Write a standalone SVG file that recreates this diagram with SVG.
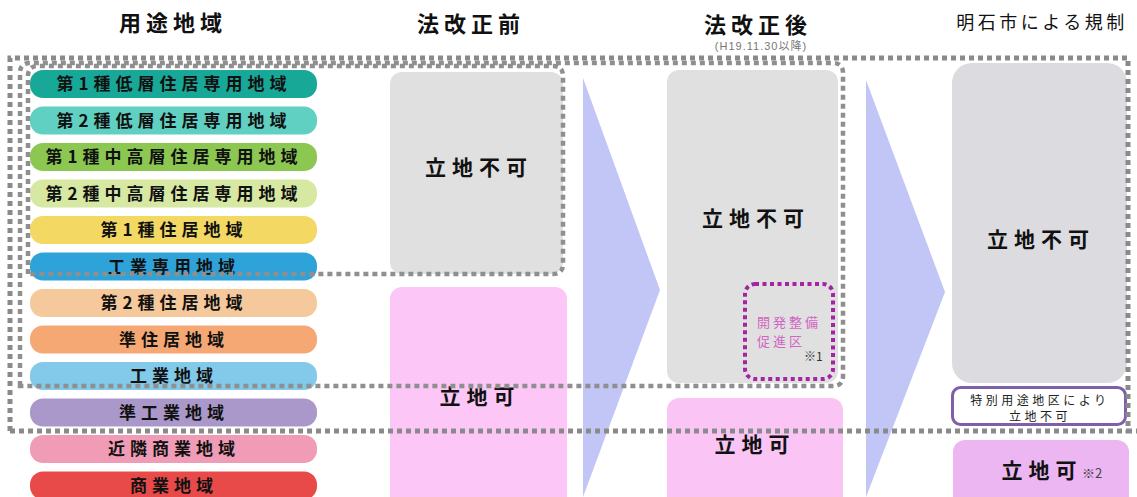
<svg xmlns="http://www.w3.org/2000/svg" width="1137" height="497" viewBox="0 0 1137 497">
<style>
.h{font-family:"Noto Sans CJK JP","Noto Sans CJK SC",sans-serif;font-weight:bold;font-size:22px;letter-spacing:5px;fill:#111;text-anchor:middle}
.p{font-family:"Noto Sans CJK JP","Noto Sans CJK SC",sans-serif;font-weight:bold;font-size:17px;letter-spacing:5px;fill:#111;text-anchor:middle}
.b{font-family:"Noto Sans CJK JP","Noto Sans CJK SC",sans-serif;font-weight:bold;font-size:21px;letter-spacing:6px;fill:#111;text-anchor:middle}
.s{font-family:"Noto Sans CJK JP","Noto Sans CJK SC",sans-serif;font-size:12px;letter-spacing:3.5px;fill:#222;text-anchor:middle}
.m{font-family:"Noto Sans CJK JP","Noto Sans CJK SC",sans-serif;font-size:13px;letter-spacing:3px;fill:#d264c4}
.d{fill:none;stroke:#8a8a8a;stroke-width:5;stroke-dasharray:5 4}
.d2{fill:none;stroke:#8f8f8f;stroke-width:4.5;stroke-dasharray:5 4}
.pill{stroke:none}
</style>
<rect width="1137" height="497" fill="#ffffff"/>
<g id="headers">
<text class="h" x="173" y="31">用途地域</text>
<text class="h" x="471" y="32">法改正前</text>
<text class="h" x="758" y="33">法改正後</text>
<text x="761" y="50" font-family="Liberation Sans,Noto Sans CJK JP,sans-serif" font-size="11" fill="#777" text-anchor="middle" letter-spacing="1">(H19.11.30以降)</text>
<text x="1042" y="29" font-family="Noto Sans CJK JP,Noto Sans CJK SC,sans-serif" font-size="18" fill="#111" text-anchor="middle" letter-spacing="3.5">明石市による規制</text>
</g>
<g id="zones">
<g id="z1"><rect class="pill" x="30" y="70" width="287" height="28" rx="13" fill="#18a898"/><text class="p" x="174" y="90">第1種低層住居専用地域</text></g>
<g id="z2"><rect class="pill" x="30" y="106.5" width="287" height="28" rx="13" fill="#5fd0c2"/><text class="p" x="174" y="126.5">第2種低層住居専用地域</text></g>
<g id="z3"><rect class="pill" x="30" y="143" width="287" height="28" rx="13" fill="#8cc851"/><text class="p" x="174" y="163">第1種中高層住居専用地域</text></g>
<g id="z4"><rect class="pill" x="30" y="179.5" width="287" height="28" rx="13" fill="#d6e8a2"/><text class="p" x="174" y="199.5">第2種中高層住居専用地域</text></g>
<g id="z5"><rect class="pill" x="30" y="216" width="287" height="28" rx="13" fill="#f3d964"/><text class="p" x="174" y="236">第1種住居地域</text></g>
<g id="z6"><rect class="pill" x="30" y="252.5" width="287" height="28" rx="13" fill="#2ea3da"/><text class="p" x="174" y="272.5">工業専用地域</text></g>
<g id="z7"><rect class="pill" x="30" y="289" width="287" height="28" rx="13" fill="#f6c99c"/><text class="p" x="174" y="309">第2種住居地域</text></g>
<g id="z8"><rect class="pill" x="30" y="325.5" width="287" height="28" rx="13" fill="#f5a874"/><text class="p" x="174" y="345.5">準住居地域</text></g>
<g id="z9"><rect class="pill" x="30" y="362" width="287" height="28" rx="13" fill="#82c9ea"/><text class="p" x="174" y="382">工業地域</text></g>
<g id="z10"><rect class="pill" x="30" y="398.5" width="287" height="28" rx="13" fill="#a998c9"/><text class="p" x="174" y="418.5">準工業地域</text></g>
<g id="z11"><rect class="pill" x="30" y="435" width="287" height="28" rx="13" fill="#f09cb6"/><text class="p" x="174" y="455">近隣商業地域</text></g>
<g id="z12"><rect class="pill" x="30" y="471.5" width="287" height="28" rx="13" fill="#e84a4a"/><text class="p" x="174" y="491.5">商業地域</text></g>
</g>
<g id="before">
<g id="before-ng"><rect x="390" y="72" width="173" height="202" rx="12" fill="#e0e0e0"/><text class="b" x="479" y="175">立地不可</text></g>
<g id="before-ok"><rect x="390" y="287" width="177" height="230" rx="12" fill="#fcc6f6"/><text class="b" x="480" y="404">立地可</text></g>
</g>
<g id="arrows">
<polygon points="583,78 660,290 583,497" fill="#c2c6f6"/>
<polygon points="866,80 945,292 866,497" fill="#c2c6f6"/>
</g>
<g id="after">
<g id="after-ng"><rect x="667" y="70" width="171" height="313" rx="12" fill="#e0e0e0"/><text class="b" x="756" y="226">立地不可</text></g>
<g id="after-dev"><rect x="745" y="284" width="88" height="95" rx="10" fill="none" stroke="#a424a4" stroke-width="4" stroke-dasharray="4 3.5"/>
<text class="m" x="757" y="327">開発整備</text>
<text class="m" x="757" y="346">促進区</text>
<text x="804" y="361" font-family="Noto Sans CJK JP,sans-serif" font-size="12" fill="#333">※1</text></g>
<g id="after-ok"><rect x="667" y="398" width="176" height="120" rx="12" fill="#fac4f4"/><text class="b" x="755" y="452">立地可</text></g>
</g>
<g id="akashi">
<g id="akashi-ng"><rect x="952" y="63" width="175" height="320" rx="20" fill="#dcdce0"/><text class="b" x="1041" y="247" letter-spacing="4">立地不可</text></g>
<g id="akashi-special"><rect x="952.5" y="387.5" width="173" height="37" rx="8" fill="#fff" stroke="#7f5fa8" stroke-width="3"/>
<text class="s" x="1040" y="405">特別用途地区により</text><text class="s" x="1040" y="421">立地不可</text></g>
<g id="akashi-ok"><rect x="953" y="440" width="176" height="80" rx="12" fill="#ecb6f2"/><text class="b" x="1042" y="478" letter-spacing="2">立地可</text>
<text x="1082" y="478" font-family="Noto Sans CJK JP,sans-serif" font-size="13" fill="#444">※2</text></g>
</g>
<g id="connectors">
<path class="d2" d="M28,274 L28,76 Q28,66 38,66 L553,66 Q563,66 563,76 L563,264 Q563,274 553,274 Z"/>
<path class="d2" d="M20,386 L20,73 Q20,63 30,63 L833,63 Q843,63 843,73 L843,376 Q843,386 833,386 Z"/>
<path class="d" d="M10,431 L10,58 L1128,58 L1128,431 L1137,431 M10,431 L1128,431"/>
</g>
</svg>
